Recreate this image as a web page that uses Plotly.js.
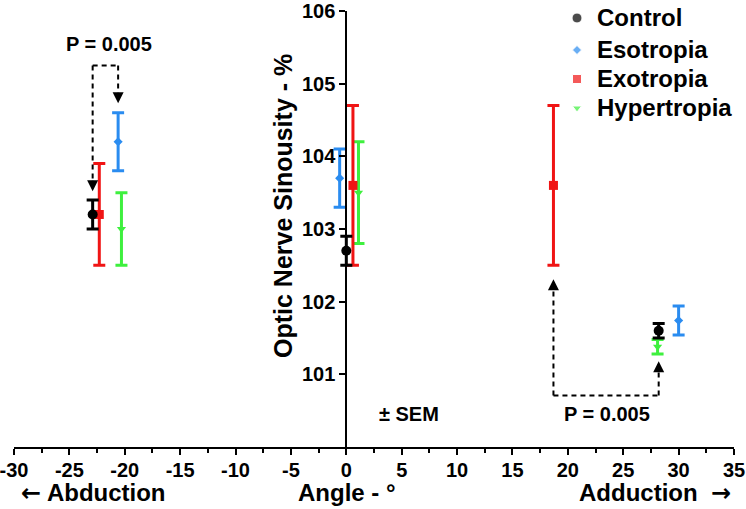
<!DOCTYPE html>
<html>
<head>
<meta charset="utf-8">
<script src="https://cdn.plot.ly/plotly-3.0.1.min.js"></script>
<style>html,body{margin:0;padding:0;background:#fff;}#chart{width:746px;height:509px;}</style>
</head>
<body>
<div id="chart"></div>
<script>
// ---- Data ----
const seriesNames = ['Control', 'Esotropia', 'Exotropia', 'Hypertropia'];
const controlX = [-22.9, 0.0, 28.2];
const controlY = [103.2, 102.7, 101.6];
const controlErr = [0.2, 0.2, 0.1];
const esoX = [-20.6, -0.6, 30.0];
const esoY = [104.2, 103.7, 101.74];
const esoErr = [0.4, 0.4, 0.2];
const exoX = [-22.3, 0.6, 18.7];
const exoY = [103.2, 103.6, 103.6];
const exoErr = [0.7, 1.1, 1.1];
const hyperX = [-20.3, 1.1, 28.1];
const hyperY = [103.0, 103.5, 101.38];
const hyperErr = [0.5, 0.7, 0.1];
const xTickVals = [-30, -25, -20, -15, -10, -5, 0, 5, 10, 15, 20, 25, 30, 35];
const xTickText = ['-30', '-25', '-20', '-15', '-10', '-5', '0', '5', '10', '15', '20', '25', '30', '35'];
const yTickVals = [101, 102, 103, 104, 105, 106];
const yTickText = ['101', '102', '103', '104', '105', '106'];

const FONT = 'Liberation Sans, Arial, Helvetica, sans-serif';
const colors = {Control: '#000000', Esotropia: '#2a8cf0', Exotropia: '#f01414', Hypertropia: '#3ef03e'};
const symbols = {Control: 'circle', Esotropia: 'diamond', Exotropia: 'square', Hypertropia: 'triangle-down'};
const sizes = {Control: 10, Esotropia: 7, Exotropia: 9, Hypertropia: 8};

// plot-area geometry in page pixels
const W = 720, H = 436, L = 14, T = 11;
function px(xp) { return (xp - L) / W; }
function py(yp) { return 1 - (yp - T) / H; }

function trace(name, x, y, err) {
  return {
    type: 'scatter', mode: 'markers', name: name, x: x, y: y,
    marker: {color: colors[name], symbol: symbols[name], size: sizes[name]},
    error_y: {type: 'data', array: err, visible: true, color: colors[name], thickness: 3, width: 6},
    hoverinfo: 'x+y', showlegend: false
  };
}
// drawn so that Control ends on top
const data = [
  trace(seriesNames[3], hyperX, hyperY, hyperErr),
  trace(seriesNames[2], exoX, exoY, exoErr),
  trace(seriesNames[1], esoX, esoY, esoErr),
  trace(seriesNames[0], controlX, controlY, controlErr)
];

// legend key layout (page pixels on a hidden overlay axis)
const legendRows = [18, 50, 79, 108];
const legendKeyX = 577, legendTextX = 595;
data.push({
  type: 'scatter', mode: 'markers', xaxis: 'x2', yaxis: 'y2', showlegend: false, hoverinfo: 'skip',
  x: seriesNames.map(() => legendKeyX), y: legendRows,
  marker: {color: seriesNames.map(n => colors[n]), symbol: seriesNames.map(n => symbols[n]),
    size: seriesNames.map(n => sizes[n])}
});

// significance bracket geometry (annotation layer)
const leftBracketY = 105.25, leftTipA = 103.52, leftTipB = 104.73;
const rightBracketY = 100.71, rightTipA = 102.31, rightTipB = 101.18;
const lx1 = controlX[0], lx2 = esoX[0];
const rx1 = exoX[2], rx2 = controlX[2];

const dash = {color: '#000', width: 2, dash: '5px,4px'};
const shapes = [
  {type: 'line', xref: 'x', yref: 'y', x0: lx1, x1: lx2, y0: leftBracketY, y1: leftBracketY, line: dash},
  {type: 'line', xref: 'x', yref: 'y', x0: lx1, x1: lx1, y0: leftBracketY, y1: leftTipA + 0.15, line: dash},
  {type: 'line', xref: 'x', yref: 'y', x0: lx2, x1: lx2, y0: leftBracketY, y1: leftTipB + 0.15, line: dash},
  {type: 'line', xref: 'x', yref: 'y', x0: rx1, x1: rx2, y0: rightBracketY, y1: rightBracketY, line: dash},
  {type: 'line', xref: 'x', yref: 'y', x0: rx1, x1: rx1, y0: rightBracketY, y1: rightTipA - 0.15, line: dash},
  {type: 'line', xref: 'x', yref: 'y', x0: rx2, x1: rx2, y0: rightBracketY, y1: rightTipB - 0.15, line: dash}
];

function arrowHead(x, y, down) {
  return {x: x, y: y, xref: 'x', yref: 'y', text: '', showarrow: true,
    ax: 0, ay: down ? -12 : 12, arrowhead: 2, arrowsize: 1.1, arrowwidth: 2, arrowcolor: '#000'};
}
function label(text, x, y, size, extra) {
  return Object.assign({text: text, x: x, y: y, xref: 'paper', yref: 'paper', showarrow: false,
    xanchor: 'center', yanchor: 'middle', font: {family: FONT, size: size, color: '#000', weight: 'bold'}}, extra || {});
}
const ARW = s => '<span style="font-family:\'DejaVu Sans\'">' + s + '</span>';

const annotations = [
  arrowHead(lx1, leftTipA, true),
  arrowHead(lx2, leftTipB, true),
  arrowHead(rx1, rightTipA, false),
  arrowHead(rx2, rightTipB, false),
  label('<b>P = 0.005</b>', px(109), py(44), 20),
  label('<b>P = 0.005</b>', px(607), py(414), 20),
  label('<b>± SEM</b>', px(409), py(414), 20),
  label('<b>Optic Nerve Sinousity - %</b>', px(283), py(206), 25, {textangle: -90}),
  label('<b>' + ARW('←') + ' Abduction</b>', px(93), py(493), 24),
  label('<b>Angle - °</b>', px(347), py(493), 24),
  label('<b>Adduction  ' + ARW('→') + '</b>', px(655), py(493), 24)
];
seriesNames.forEach((n, i) => {
  annotations.push(label('<b>' + n + '</b>', px(legendTextX), py(legendRows[i]), 24, {xanchor: 'left'}));
});

const layout = {
  width: 746, height: 509,
  margin: {l: L, r: 746 - L - W, t: T, b: 509 - T - H, pad: 0},
  paper_bgcolor: '#fff', plot_bgcolor: '#fff',
  showlegend: false,
  xaxis: {range: [-30, 35], showgrid: false, zeroline: false, showline: true, linecolor: '#000', linewidth: 2,
    tickmode: 'array', tickvals: xTickVals, ticktext: xTickText.map(t => '<b>' + t + '</b>'),
    ticks: 'outside', ticklen: 6, tickwidth: 2, tickcolor: '#000', ticklabeloverflow: 'allow', ticklabelstandoff: -2,
    minor: {dtick: 2.5, tick0: -30, ticks: 'outside', ticklen: 4, tickwidth: 2, tickcolor: '#000', showgrid: false},
    tickfont: {family: FONT, size: 20, color: '#000', weight: 'bold'}, fixedrange: true},
  yaxis: {range: [100, 106], anchor: 'free', position: 30 / 65, showgrid: false, zeroline: false, showline: true,
    linecolor: '#000', linewidth: 2, tickmode: 'array', tickvals: yTickVals, ticktext: yTickText.map(t => '<b>' + t + '</b>'),
    ticks: 'outside', ticklen: 6, tickwidth: 2, tickcolor: '#000', ticklabeloverflow: 'allow',
    tickfont: {family: FONT, size: 20, color: '#000', weight: 'bold'}, fixedrange: true},
  xaxis2: {overlaying: 'x', anchor: 'y2', range: [L, L + W], visible: false, fixedrange: true},
  yaxis2: {overlaying: 'y', anchor: 'x2', range: [T + H, T], visible: false, fixedrange: true},
  shapes: shapes,
  annotations: annotations
};

Plotly.newPlot('chart', data, layout, {displayModeBar: false, staticPlot: true});
</script>
</body>
</html>
